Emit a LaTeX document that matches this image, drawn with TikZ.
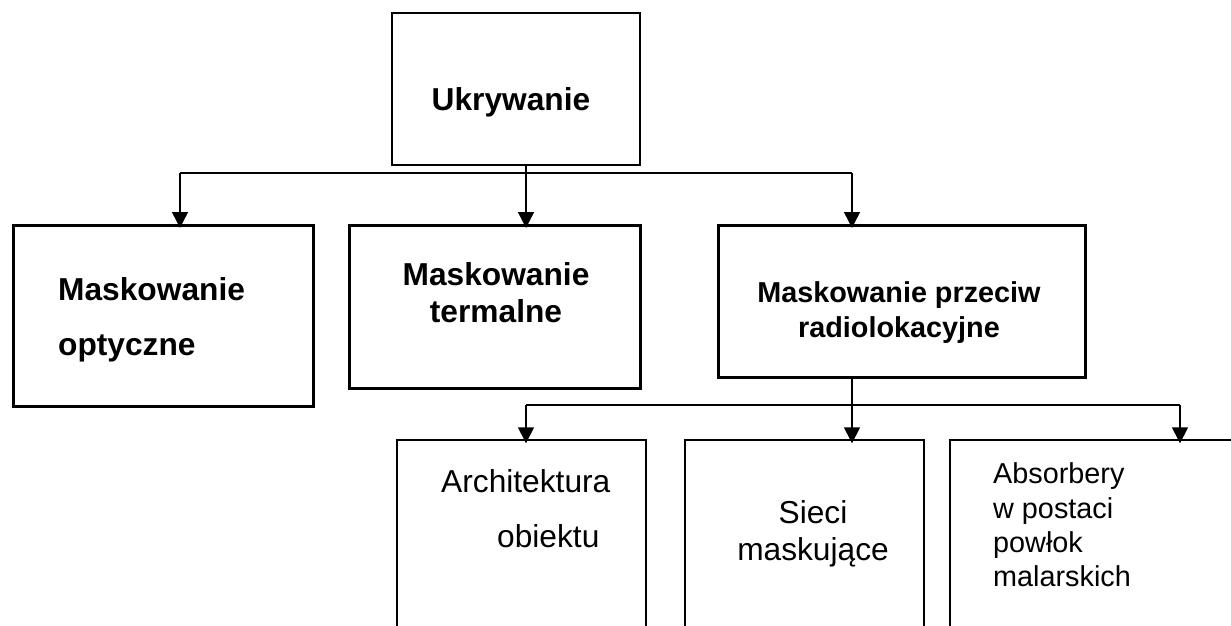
\documentclass[tikz,border=0pt]{standalone}
\usepackage{fontspec}
\setmainfont{Liberation Sans}
\usetikzlibrary{arrows.meta}
\begin{document}
\begin{tikzpicture}[x=1pt,y=-1pt,
  box/.style={draw,line width=1.4pt,inner sep=0pt,rectangle,anchor=center},
  thickbox/.style={box,line width=3pt},
  conn/.style={line width=1.4pt},
  arr/.style={conn,-{Triangle[width=16pt,length=16pt]},shorten >=-4pt},
  bigb/.style={font=\fontsize{31.7}{38}\selectfont\bfseries,inner sep=0pt},
  smallb/.style={font=\fontsize{28.8}{34}\selectfont\bfseries,inner sep=0pt},
  bigr/.style={font=\fontsize{31.7}{38}\selectfont,inner sep=0pt},
  smallr/.style={font=\fontsize{28.8}{34}\selectfont,inner sep=0pt}]
\useasboundingbox (0,0) rectangle (1231,625);
\clip (0,0) rectangle (1231,625);

% boxes
\node[box,minimum width=248pt,minimum height=152pt] (top) at (516,89) {};
\node[thickbox,minimum width=300pt,minimum height=181pt] (opt) at (163.5,316) {};
\node[thickbox,minimum width=291pt,minimum height=163pt] (ter) at (495,307) {};
\node[thickbox,minimum width=367pt,minimum height=152pt] (rad) at (902,301.5) {};
\node[box,minimum width=249pt,minimum height=260pt] (arch) at (521.5,570) {};
\node[box,minimum width=239pt,minimum height=260pt] (siec) at (804.5,570) {};
\node[box,minimum width=350pt,minimum height=260pt] (abs) at (1125,570) {};

% texts
\node[bigb,anchor=base] (tUk) at (511,110) {Ukrywanie};
\node[bigb,anchor=base west] (tO1) at (58,300) {Maskowanie};
\node[bigb,anchor=base west] (tO2) at (58,355) {optyczne};
\node[bigb,anchor=base] (tT1) at (496,285) {Maskowanie};
\node[bigb,anchor=base] (tT2) at (496,322) {termalne};
\node[smallb,anchor=base] (tR1) at (899,302) {Maskowanie przeciw};
\node[smallb,anchor=base] (tR2) at (899,337) {radiolokacyjne};
\node[bigr,anchor=base west] (tA1) at (441,492) {Architektura};
\node[bigr,anchor=base west] (tA2) at (497,547) {obiektu};
\node[bigr,anchor=base] (tS1) at (813,523) {Sieci};
\node[bigr,anchor=base] (tS2) at (813,560) {maskujące};
\node[smallr,anchor=base west] (tB1) at (993,483) {Absorbery};
\node[smallr,anchor=base west] (tB2) at (993,518) {w postaci};
\node[smallr,anchor=base west] (tB3) at (993,552) {powłok};
\node[smallr,anchor=base west] (tB4) at (993,586) {malarskich};

% first level connectors
\coordinate (b1L) at (180,173);
\coordinate (j1) at (526,173);
\coordinate (b1R) at (852,173);
\draw[conn] (b1L) -- (b1R);
\draw[conn] (top.south -| j1) -- (j1);
\draw[arr] (b1L) -- (b1L |- opt.north);
\draw[arr] (j1) -- (j1 |- ter.north);
\draw[arr] (b1R) -- (b1R |- rad.north);

% second level connectors
\coordinate (b2L) at (526,405);
\coordinate (j2) at (852,405);
\coordinate (b2R) at (1180,405);
\draw[conn] (b2L) -- (b2R);
\draw[conn] (rad.south -| j2) -- (j2);
\draw[arr] (b2L) -- (b2L |- arch.north);
\draw[arr] (j2) -- (j2 |- siec.north);
\draw[arr] (b2R) -- (b2R |- abs.north);
\end{tikzpicture}
\end{document}
